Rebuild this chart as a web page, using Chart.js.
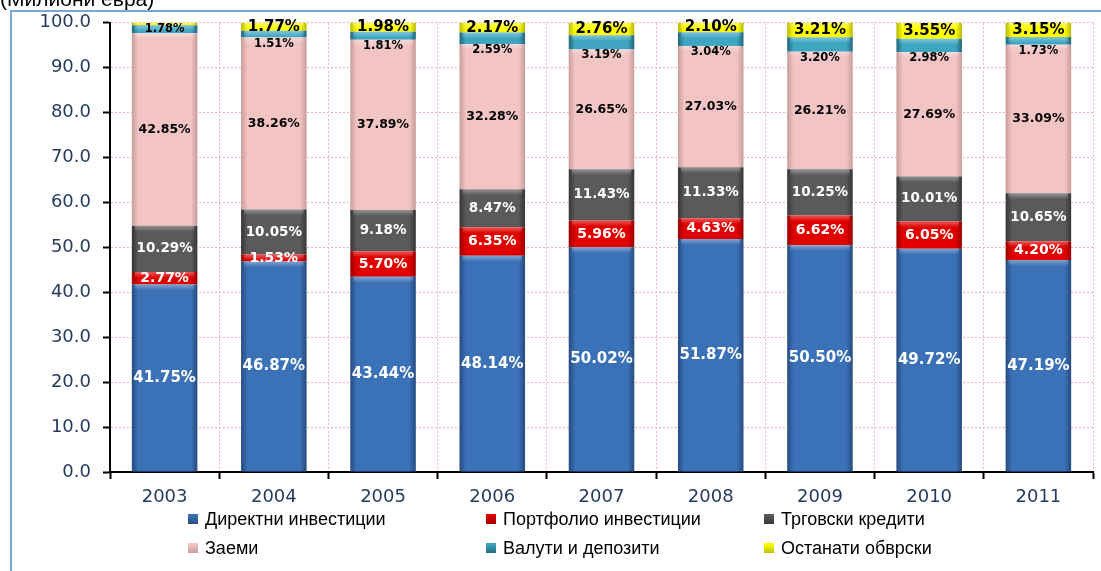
<!DOCTYPE html>
<html>
<head>
<meta charset="utf-8">
<script src="https://cdn.jsdelivr.net/npm/chart.js@4.4.1/dist/chart.umd.min.js"></script>
<style>
    html, body { margin: 0; padding: 0; background: #fff; }
    #wrap { position: relative; width: 1101px; height: 571px; overflow: hidden; }
</style>
</head>
<body>
<div id="wrap"><canvas id="chart" width="1101" height="571"></canvas></div>
<script>
// data (share of total, %)
const years = ['2003', '2004', '2005', '2006', '2007', '2008', '2009', '2010', '2011'];
const directInv = [41.75, 46.87, 43.44, 48.14, 50.02, 51.87, 50.50, 49.72, 47.19];
const portfolioInv = [2.77, 1.53, 5.70, 6.35, 5.96, 4.63, 6.62, 6.05, 4.20];
const tradeCredits = [10.29, 10.05, 9.18, 8.47, 11.43, 11.33, 10.25, 10.01, 10.65];
const loans = [42.85, 38.26, 37.89, 32.28, 26.65, 27.03, 26.21, 27.69, 33.09];
const currDeposits = [1.78, 1.51, 1.81, 2.59, 3.19, 3.04, 3.20, 2.98, 1.73];
const otherLiab = [0.56, 1.77, 1.98, 2.17, 2.76, 2.10, 3.21, 3.55, 3.15];
const seriesNames = ['Директни инвестиции', 'Портфолио инвестиции', 'Трговски кредити', 'Заеми', 'Валути и депозити', 'Останати обврски'];
const titleText = '(Милиони евра)';

// colours: base / darker edge / label colour / label font
const styles = [
    { base: '#3b71b6', dark: '#264b80', text: '#fff', font: 'bold 15px "DejaVu Sans"' },
    { base: '#e00000', dark: '#9c0000', text: '#fff', font: 'bold 14px "DejaVu Sans"' },
    { base: '#5a5a5a', dark: '#363636', text: '#fff', font: 'bold 13.5px "DejaVu Sans"' },
    { base: '#f2c4c4', dark: '#c99c9c', text: '#000', font: 'bold 12.5px "DejaVu Sans"' },
    { base: '#3fa6c2', dark: '#21667a', text: '#000', font: 'bold 11.5px "DejaVu Sans"' },
    { base: '#ffff00', dark: '#b8b800', text: '#000', font: 'bold 15px "DejaVu Sans"' }
];

//horizontal gradient on each bar, darker at the sides
function barFill(st) {
    return function (ctx) {
        var chart = ctx.chart;
        var xs = chart.scales.x;
        if (!xs || ctx.type !== 'data' || !xs.ticks.length) return st.base;
        var cx = xs.getPixelForValue(ctx.dataIndex);
        var w = xs.width / years.length * 0.6;
        var g = chart.ctx.createLinearGradient(cx - w / 2, 0, cx + w / 2, 0);
        g.addColorStop(0, st.dark);
        g.addColorStop(0.1, st.base);
        g.addColorStop(0.9, st.base);
        g.addColorStop(1, st.dark);
        return g;
    };
}

var allSeries = [directInv, portfolioInv, tradeCredits, loans, currDeposits, otherLiab];
var datasets = allSeries.map(function (vals, i) {
    return {
        label: seriesNames[i],
        data: vals,
        backgroundColor: barFill(styles[i]),
        borderWidth: 0,
        barPercentage: 0.6,
        categoryPercentage: 1
    };
});

//frame, title and legend drawn around the plot
var decorPlugin = {
    id: 'decor',
    beforeDraw(chart) {
        var ctx = chart.ctx;
        ctx.save();
        ctx.strokeStyle = '#79a6dc';
        ctx.lineWidth = 2;
        ctx.beginPath();
        ctx.moveTo(11, 571);
        ctx.lineTo(11, 11);
        ctx.lineTo(1101, 11);
        ctx.stroke();
        ctx.fillStyle = '#000';
        ctx.font = '21px "Liberation Sans"';
        ctx.textAlign = 'left';
        ctx.textBaseline = 'alphabetic';
        ctx.fillText(titleText, 0, 6);
        ctx.restore();
    },
    afterDraw(chart) {
        var ctx = chart.ctx;
        var colX = [188, 486, 764];
        var rowY = [520, 549];
        ctx.save();
        ctx.font = '18px "Liberation Sans"';
        ctx.textBaseline = 'middle';
        ctx.textAlign = 'left';
        seriesNames.forEach(function (name, i) {
            var x = colX[i % 3];
            var y = rowY[Math.floor(i / 3)];
            var g = ctx.createLinearGradient(0, y - 5, 0, y + 5);
            g.addColorStop(0, styles[i].base);
            g.addColorStop(1, styles[i].dark);
            ctx.fillStyle = g;
            ctx.fillRect(x, y - 6, 10, 10);
            ctx.fillStyle = '#000';
            ctx.fillText(name, x + 17, y);
        });
        ctx.restore();
    }
};

//bevel highlight on top of each segment + percent labels
var labelPlugin = {
    id: 'segLabels',
    afterDatasetsDraw(chart) {
        var ctx = chart.ctx;
        ctx.save();
        chart.data.datasets.forEach(function (ds, di) {
            var meta = chart.getDatasetMeta(di);
            meta.data.forEach(function (bar) {
                var h = Math.min(6, bar.base - bar.y);
                if (h <= 0) return;
                var g = ctx.createLinearGradient(0, bar.y, 0, bar.y + h);
                g.addColorStop(0, 'rgba(255,255,255,0.35)');
                g.addColorStop(1, 'rgba(255,255,255,0)');
                ctx.fillStyle = g;
                ctx.fillRect(bar.x - bar.width / 2 + 3, bar.y, bar.width - 6, h);
            });
        });
        ctx.textAlign = 'center';
        ctx.textBaseline = 'middle';
        chart.data.datasets.forEach(function (ds, di) {
            var meta = chart.getDatasetMeta(di);
            meta.data.forEach(function (bar, i) {
                var v = ds.data[i];
                if (v < 1) return;
                var y = (bar.y + bar.base) / 2;
                // deposits label hangs just under its thin band
                if (di === 4 && otherLiab[i] >= 1) y = bar.base + 6;
                ctx.font = styles[di].font;
                ctx.fillStyle = styles[di].text;
                ctx.fillText(v.toFixed(2) + '%', bar.x, y);
            });
        });
        ctx.restore();
    }
};

var gridCol = '#ecb4b4';
new Chart(document.getElementById('chart'), {
    type: 'bar',
    data: { labels: years, datasets: datasets },
    options: {
        responsive: false,
        animation: false,
        layout: { padding: { left: 0, top: 22, right: 8, bottom: 0 } },
        plugins: {
            legend: { display: false },
            tooltip: { enabled: false },
            title: { display: false }
        },
        scales: {
            x: {
                stacked: true,
                afterFit: function (scale) { scale.height = 99; },
                grid: {
                    offset: true,
                    color: gridCol,
                    lineWidth: 1,
                    tickColor: '#000',
                    tickWidth: 2,
                    tickLength: 7,
                    tickBorderDash: []
                },
                border: { display: true, color: '#000', width: 2, dash: [2, 2] },
                ticks: {
                    color: '#253c5e',
                    font: { family: 'DejaVu Sans', size: 18 },
                    padding: 8
                }
            },
            y: {
                stacked: true,
                min: 0,
                max: 100,
                afterFit: function (scale) { scale.width = 110; },
                grid: {
                    color: gridCol,
                    lineWidth: 1,
                    tickColor: '#000',
                    tickWidth: 2,
                    tickLength: 7,
                    tickBorderDash: []
                },
                border: { display: true, color: '#000', width: 2, dash: [2, 2] },
                ticks: {
                    stepSize: 10,
                    color: '#253c5e',
                    font: { family: 'DejaVu Sans', size: 18 },
                    padding: 12,
                    callback: function (v) { return Number(v).toFixed(1); }
                }
            }
        }
    },
    plugins: [decorPlugin, labelPlugin]
});
</script>
</body>
</html>
